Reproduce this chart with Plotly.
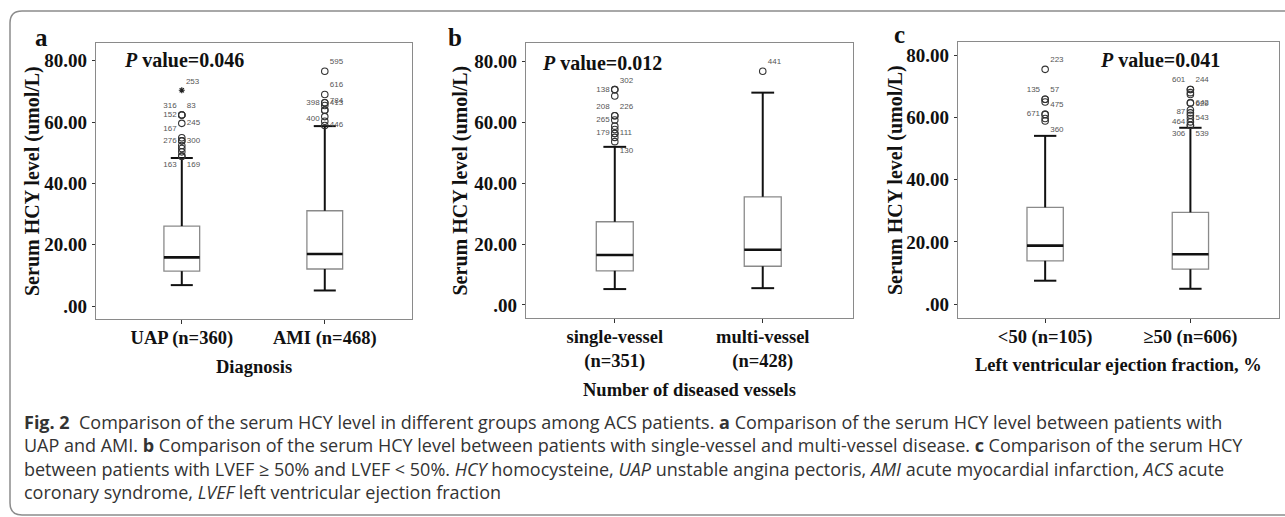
import plotly.graph_objects as go

W, H = 1285, 517

# ---------------- data ----------------
A_CATS = ["UAP (n=360)", "AMI (n=468)"]
A_Q1 = [11.4, 12.1]
A_MED = [15.9, 17.0]
A_Q3 = [26.1, 31.1]
A_LOW = [6.85, 5.1]
A_HIGH = [48.3, 58.7]
A_P = "0.046"

B_CATS = ["single-vessel<br>(n=351)", "multi-vessel<br>(n=428)"]
B_Q1 = [11.2, 12.7]
B_MED = [16.4, 18.1]
B_Q3 = [27.3, 35.5]
B_LOW = [5.2, 5.5]
B_HIGH = [51.9, 69.7]
B_P = "0.012"

C_CATS = ["<50 (n=105)", "≥50 (n=606)"]
C_Q1 = [13.9, 11.2]
C_MED = [18.8, 16.0]
C_Q3 = [31.1, 29.5]
C_LOW = [7.5, 4.9]
C_HIGH = [54.1, 56.7]
C_P = "0.041"

# outliers (value, case label) per box
A0_OUT = [48.9, 48.9, 50.3, 51.4, 52.4, 53.9, 53.9, 54.9, 59.6, 62.3, 62.3, 62.3]
A0_LBL = ["163", "169", "", "", "", "276", "300", "167", "245", "152", "83", "316"]
A0_EXT = [70.4]
A0_EXT_LBL = ["253"]
A1_OUT = [58.9, 60.3, 61.8, 63.9, 63.9, 65.4, 66.3, 66.3, 69.0, 76.6]
A1_LBL = ["446", "", "", "400", "784", "", "398", "413", "616", "595"]

B0_OUT = [53.6, 55.0, 56.3, 56.3, 57.6, 58.7, 60.7, 62.1, 62.1, 68.6, 70.7, 70.7]
B0_LBL = ["130", "", "179", "111", "", "", "265", "208", "226", "", "138", "302"]
B1_OUT = [76.7]
B1_LBL = ["441"]

C0_OUT = [58.9, 59.7, 61.0, 61.0, 65.0, 65.9, 65.9, 75.5]
C0_LBL = ["360", "", "671", "475", "", "135", "57", "223"]
C1_OUT = [57.5, 57.5, 58.6, 59.7, 60.7, 61.5, 62.4, 64.7, 64.7, 67.4, 68.0, 69.0, 69.0]
C1_LBL = ["306", "539", "464", "543", "", "", "", "87", "642", "629", "", "601", "244"]

Y_TICKS = [0, 20, 40, 60, 80]
Y_TICKTEXT = [".00", "20.00", "40.00", "60.00", "80.00"]

CAPTION = [
    "<b>Fig. 2</b>  Comparison of the serum HCY level in different groups among ACS patients. <b>a</b> Comparison of the serum HCY level between patients with",
    "UAP and AMI. <b>b</b> Comparison of the serum HCY level between patients with single-vessel and multi-vessel disease. <b>c</b> Comparison of the serum HCY",
    "between patients with LVEF ≥ 50% and LVEF &lt; 50%. <i>HCY</i> homocysteine, <i>UAP</i> unstable angina pectoris, <i>AMI</i> acute myocardial infarction, <i>ACS</i> acute",
    "coronary syndrome, <i>LVEF</i> left ventricular ejection fraction",
]

# ---------------- styles ----------------
A0_POS = ["bottom left", "bottom right", "middle left", "middle left", "middle left", "middle left",
          "middle right", "top left", "middle right", "middle left", "top right", "top left"]
A1_POS = ["middle right", "middle left", "middle left", "bottom left", "top right", "middle left",
          "middle left", "middle right", "top right", "top right"]
B0_POS = ["bottom right", "middle left", "middle left", "middle right", "middle left", "middle left",
          "middle left", "top left", "top right", "middle left", "middle left", "top right"]
B1_POS = ["top right"]
C0_POS = ["bottom right", "middle left", "middle left", "top right", "middle left", "top left",
          "top right", "top right"]
C1_POS = ["bottom left", "bottom right", "middle left", "middle right", "middle left", "middle left",
          "middle left", "bottom left", "middle right", "bottom right", "middle left", "top left", "top right"]

SERIF = "Liberation Serif"
BOX_W = 0.25
CAP_HALF = 0.077
XR = [-0.6, 1.61]

panels = [
    dict(cats=A_CATS, q1=A_Q1, med=A_MED, q3=A_Q3, low=A_LOW, high=A_HIGH, p=A_P,
         outs=[(A0_OUT, A0_LBL, A0_POS), (A1_OUT, A1_LBL, A1_POS)], ext=(A0_EXT, A0_EXT_LBL),
         dom_x=(96, 412), dom_y=(43, 319), yr=[-4.2, 85.8], letter="a",
         xtitle="Diagnosis", xt_y=367, yt_x=33, p_xy=(122, 60), l_xy=(41, 38)),
    dict(cats=B_CATS, q1=B_Q1, med=B_MED, q3=B_Q3, low=B_LOW, high=B_HIGH, p=B_P,
         outs=[(B0_OUT, B0_LBL, B0_POS), (B1_OUT, B1_LBL, B1_POS)], ext=None,
         dom_x=(526, 853), dom_y=(43, 318), yr=[-4.3, 86.0], letter="b",
         xtitle="Number of diseased vessels", xt_y=390, yt_x=460, p_xy=(540, 63), l_xy=(455, 37)),
    dict(cats=C_CATS, q1=C_Q1, med=C_MED, q3=C_Q3, low=C_LOW, high=C_HIGH, p=C_P,
         outs=[(C0_OUT, C0_LBL, C0_POS), (C1_OUT, C1_LBL, C1_POS)], ext=None,
         dom_x=(958, 1279), dom_y=(42, 318), yr=[-4.5, 84.3], letter="c",
         xtitle="Left ventricular ejection fraction, %", xt_y=365, yt_x=895, p_xy=(1098, 60), l_xy=(900, 34)),
]


def px(x):
    return x / W


def py(y):
    return 1 - y / H


fig = go.Figure()
annotations = []
layout_axes = {}

for k, pn in enumerate(panels):
    sfx = "" if k == 0 else str(k + 1)
    xa, ya = "x" + sfx, "y" + sfx
    n = len(pn["cats"])
    pos = list(range(n))

    # box bodies (grey outline, whiskers drawn separately)
    fig.add_trace(go.Box(
        x=pos, q1=pn["q1"], median=pn["med"], q3=pn["q3"],
        lowerfence=pn["q1"], upperfence=pn["q3"],
        width=BOX_W, whiskerwidth=0, fillcolor="white",
        line=dict(color="#8a8a8a", width=1.3), boxpoints=False,
        xaxis=xa, yaxis=ya, showlegend=False, hoverinfo="skip"))

    # whiskers, caps and medians in black
    wx, wy, mx, my = [], [], [], []
    for i in pos:
        wx += [i, i, None, i, i, None,
               i - CAP_HALF, i + CAP_HALF, None, i - CAP_HALF, i + CAP_HALF, None]
        wy += [pn["q1"][i], pn["low"][i], None, pn["q3"][i], pn["high"][i], None,
               pn["low"][i], pn["low"][i], None, pn["high"][i], pn["high"][i], None]
        mx += [i - BOX_W / 2, i + BOX_W / 2, None]
        my += [pn["med"][i], pn["med"][i], None]
    fig.add_trace(go.Scatter(x=wx, y=wy, mode="lines", line=dict(color="#111", width=2),
                             xaxis=xa, yaxis=ya, showlegend=False, hoverinfo="skip"))
    fig.add_trace(go.Scatter(x=mx, y=my, mode="lines", line=dict(color="#111", width=2.6),
                             xaxis=xa, yaxis=ya, showlegend=False, hoverinfo="skip"))

    # outliers
    for i, (vals, lbls, tpos) in enumerate(pn["outs"]):
        fig.add_trace(go.Scatter(
            x=[i] * len(vals), y=vals, mode="markers+text", text=lbls, textposition=tpos,
            textfont=dict(family="Liberation Sans", size=8, color="#555"),
            marker=dict(symbol="circle-open", size=6.5, color="#333", line=dict(width=1.1)),
            xaxis=xa, yaxis=ya, showlegend=False, hoverinfo="skip", cliponaxis=False))
    if pn["ext"] is not None:
        ev, el = pn["ext"]
        fig.add_trace(go.Scatter(
            x=[0] * len(ev), y=ev, mode="markers+text", text=el, textposition="top right",
            textfont=dict(family="Liberation Sans", size=8, color="#555"),
            marker=dict(symbol="asterisk-open", size=5, color="#222", line=dict(width=1.2)),
            xaxis=xa, yaxis=ya, showlegend=False, hoverinfo="skip", cliponaxis=False))

    x0, x1 = pn["dom_x"]
    y0, y1 = pn["dom_y"]
    layout_axes["xaxis" + sfx] = dict(
        domain=[px(x0), px(x1)], range=XR, anchor=ya,
        tickvals=pos, ticktext=pn["cats"], ticks="outside", ticklen=4, tickwidth=1,
        tickcolor="#333", showline=True, mirror=True, linecolor="#8a8a8a", linewidth=1.2,
        showgrid=False, zeroline=False, ticklabelstandoff=-2,
        tickfont=dict(family=SERIF, size=18.5, color="#111", weight="bold"))
    layout_axes["yaxis" + sfx] = dict(
        domain=[py(y1), py(y0)], range=pn["yr"], anchor=xa,
        tickvals=Y_TICKS, ticktext=Y_TICKTEXT, ticks="outside", ticklen=3, tickwidth=1,
        tickcolor="#333", showline=True, mirror=True, linecolor="#8a8a8a", linewidth=1.2,
        showgrid=False, zeroline=False, ticklabelstandoff=1,
        tickfont=dict(family=SERIF, size=19, color="#111", weight="bold"))

    # axis titles
    annotations.append(dict(
        x=px((x0 + x1) / 2), y=py(pn["xt_y"]), xref="paper", yref="paper",
        text="<b>%s</b>" % pn["xtitle"], showarrow=False, xanchor="center", yanchor="middle",
        font=dict(family=SERIF, size=18.5, color="#111")))
    annotations.append(dict(
        x=px(pn["yt_x"]), y=py((y0 + y1) / 2), xref="paper", yref="paper",
        text="<b>Serum HCY level (umol/L)</b>", textangle=-90, showarrow=False,
        xanchor="center", yanchor="middle", font=dict(family=SERIF, size=20, color="#111")))
    # P value
    annotations.append(dict(
        x=px(pn["p_xy"][0]), y=py(pn["p_xy"][1]), xref="paper", yref="paper",
        text="<b><i>P</i> value=%s</b>" % pn["p"], showarrow=False, xanchor="left", yanchor="middle",
        font=dict(family=SERIF, size=20, color="#111")))
    # panel letter
    annotations.append(dict(
        x=px(pn["l_xy"][0]), y=py(pn["l_xy"][1]), xref="paper", yref="paper",
        text="<b>%s</b>" % pn["letter"], showarrow=False, xanchor="center", yanchor="middle",
        font=dict(family=SERIF, size=25, color="#111")))

# caption (single multi-line text block)
annotations.append(dict(
    x=px(23), y=py(409), xref="paper", yref="paper", text="<br>".join(CAPTION),
    showarrow=False, xanchor="left", yanchor="top", align="left", borderpad=0,
    font=dict(family="Open Sans", size=18.0, color="#333")))

# frame around whole figure (rounded on the left)
border = ("M {a},{t} L {b},{t} Q {c},{t} {c},{d} L {c},{e} Q {c},{f} {b},{f} L {a},{f}").format(
    a=px(1300), b=px(22), c=px(10), t=py(11), d=py(23), e=py(503), f=py(515))

fig.update_layout(
    width=W, height=H, autosize=False, margin=dict(l=0, r=0, t=0, b=0),
    paper_bgcolor="white", plot_bgcolor="white", showlegend=False,
    annotations=annotations,
    shapes=[dict(type="path", path=border, xref="paper", yref="paper",
                 line=dict(color="#8c8c8c", width=1.5))],
    **layout_axes)

fig.write_html("out.html", config={"displayModeBar": False},
               post_script="document.body.style.margin='0px';")
